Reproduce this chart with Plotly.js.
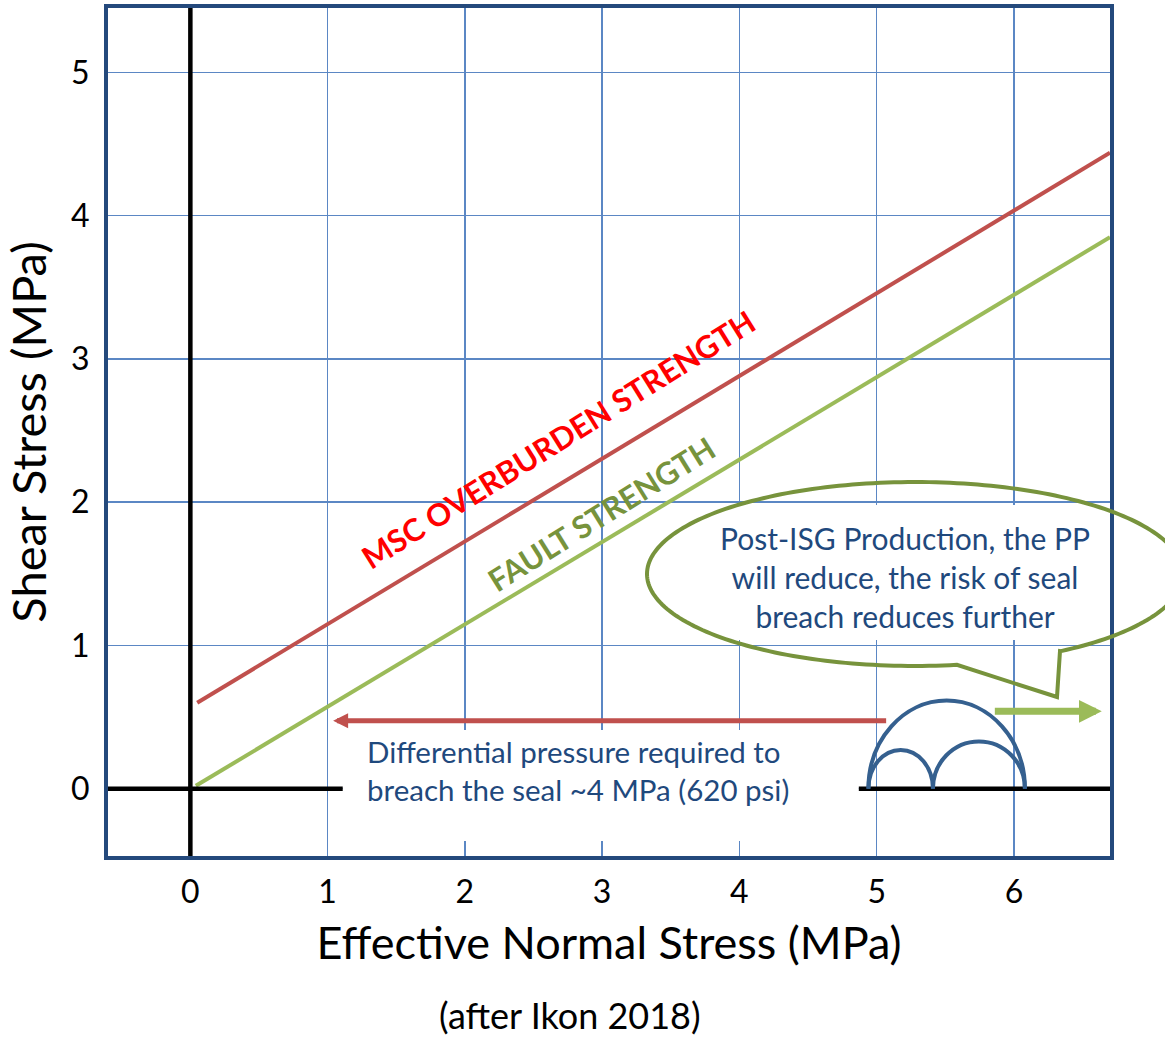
<!DOCTYPE html>
<html>
<head>
<meta charset="utf-8">
<script src="https://cdn.plot.ly/plotly-3.0.1.min.js"></script>
<style>
html,body{margin:0;padding:0;background:#fff;}
#chart{width:1165px;height:1038px;}
</style>
</head>
<body>
<div id="chart"></div>
<script>
// ---------- data ----------
const xTicks = [0, 1, 2, 3, 4, 5, 6];
const xTickText = ['0', '1', '2', '3', '4', '5', '6'];
const yTicks = [0, 1, 2, 3, 4, 5];
const yTickText = ['0', '1', '2', '3', '4', '5'];

const overburdenX = [0.05, 6.70];
const overburdenY = [0.60, 4.44];
const faultX = [0.04, 6.70];
const faultY = [0.02, 3.85];

const mohrCenters = [5.51, 5.175, 5.745];
const mohrRadii   = [0.57, 0.235, 0.335];
const mohrHeights = [0.615, 0.27, 0.33];

const pressureArrowX = [5.08, 1.04];   // tail, tip
const pressureArrowY = [0.475, 0.475];
const reliefArrowX = [5.85, 6.64];     // tail, tip
const reliefArrowY = [0.54, 0.54];

const baselineSegmentsX = [[-0.62, 1.11], [4.87, 6.70]];

// ---------- layout geometry ----------
const W = 1165, H = 1038, ML = 108, MR = 55, MT = 8, MB = 182;
const PW = W - ML - MR, PH = H - MT - MB;
const px2paperX = p => (p - ML) / PW;
const px2paperY = p => (H - MB - p) / PH;

const FONT = 'Lato, "Open Sans", sans-serif';
const BLUE_TXT = '#1F497D';

// ---------- traces ----------
const traces = [
  {x: overburdenX, y: overburdenY, mode: 'lines', type: 'scatter',
   line: {color: '#C0504D', width: 4}, hoverinfo: 'skip', showlegend: false},
  {x: faultX, y: faultY, mode: 'lines', type: 'scatter',
   line: {color: '#9BBB59', width: 4}, hoverinfo: 'skip', showlegend: false}
];

// ---------- shapes ----------
const shapes = [];
// white text boxes (hide grid under labels)
shapes.push({type: 'rect', xref: 'x', yref: 'y', layer: 'above',
  x0: 1.11, x1: 4.87, y0: -0.365, y1: 0.41,
  fillcolor: '#ffffff', line: {width: 0}});
shapes.push({type: 'rect', xref: 'paper', yref: 'paper', layer: 'above',
  x0: px2paperX(712), x1: px2paperX(1100), y0: px2paperY(640), y1: px2paperY(505),
  fillcolor: '#ffffff', line: {width: 0}});

// black axes through origin
shapes.push({type: 'line', xref: 'x', yref: 'y', layer: 'above',
  x0: 0, x1: 0, y0: -0.6, y1: 5.6, line: {color: '#000', width: 4.5}});
baselineSegmentsX.forEach(s => shapes.push({type: 'line', xref: 'x', yref: 'y', layer: 'above',
  x0: s[0], x1: s[1], y0: 0, y1: 0, line: {color: '#000', width: 4.5}}));

// Mohr semicircles (cubic Bezier halves)
const K = 0.5523;
mohrCenters.forEach((c, i) => {
  const r = mohrRadii[i], h = mohrHeights[i];
  const d = `M${c - r},0 C${c - r},${K * h} ${c - K * r},${h} ${c},${h} ` +
            `C${c + K * r},${h} ${c + r},${K * h} ${c + r},0`;
  shapes.push({type: 'path', xref: 'x', yref: 'y', layer: 'above', path: d,
    line: {color: '#35608F', width: 4}});
});

// speech bubble outline
(function () {
  const cx = 915, cy = 574, rx = 268, ry = 92;
  const pts = [];
  for (let t = 57; t >= 80 - 360; t -= 1.5) {
    const a = t * Math.PI / 180;
    pts.push([cx + rx * Math.cos(a), cy + ry * Math.sin(a)]);
  }
  pts.push([1057, 697]);
  pts.push([1060, 651]);
  let d = 'M' + pts.map(p => px2paperX(p[0]).toFixed(5) + ',' + px2paperY(p[1]).toFixed(5)).join(' L') + ' Z';
  shapes.push({type: 'path', xref: 'paper', yref: 'paper', layer: 'above', path: d,
    line: {color: '#77933C', width: 4}});
})();

// ---------- annotations ----------
const annotations = [
  {xref: 'x', yref: 'y', x: 2.68, y: 2.44, text: '<b>MSC OVERBURDEN STRENGTH</b>',
   textangle: -32, showarrow: false, font: {family: FONT, size: 31, color: '#FF0000'}},
  {xref: 'x', yref: 'y', x: 2.99, y: 1.92, text: '<b>FAULT STRENGTH</b>',
   textangle: -32, showarrow: false, font: {family: FONT, size: 31, color: '#77933C'}},
  {xref: 'x', yref: 'y', x: 1.27, y: 0.124, xanchor: 'left', align: 'left',
   text: 'Differential pressure required to<br>breach the seal ~4 MPa (620 psi)',
   showarrow: false, font: {family: FONT, size: 29.5, color: BLUE_TXT}},
  {xref: 'x', yref: 'y', x: 5.21, y: 1.48, align: 'center',
   text: 'Post-ISG Production, the PP<br>will reduce, the risk of seal<br>breach reduces further',
   showarrow: false, font: {family: FONT, size: 30, color: BLUE_TXT}},
  {xref: 'paper', yref: 'paper', x: px2paperX(570), y: px2paperY(1015),
   xanchor: 'center', yanchor: 'middle',
   text: '(after Ikon 2018)', showarrow: false,
   font: {family: FONT, size: 36, color: '#000'}},
  {xref: 'x', yref: 'y', axref: 'x', ayref: 'y',
   x: pressureArrowX[1], y: pressureArrowY[1], ax: pressureArrowX[0], ay: pressureArrowY[0],
   text: '', showarrow: true, arrowhead: 2, arrowsize: 0.6, arrowwidth: 5, arrowcolor: '#C0504D'},
  {xref: 'x', yref: 'y', axref: 'x', ayref: 'y',
   x: reliefArrowX[1], y: reliefArrowY[1], ax: reliefArrowX[0], ay: reliefArrowY[0],
   text: '', showarrow: true, arrowhead: 2, arrowsize: 0.65, arrowwidth: 7, arrowcolor: '#9BBB59'}
];

// ---------- layout ----------
const layout = {
  width: W, height: H,
  margin: {l: ML, r: MR, t: MT, b: MB, autoexpand: false},
  paper_bgcolor: '#ffffff', plot_bgcolor: '#ffffff',
  showlegend: false,
  font: {family: FONT, color: '#000'},
  xaxis: {
    range: [-0.6, 6.7], tickvals: xTicks, ticktext: xTickText,
    showgrid: true, gridcolor: '#5B87C4', gridwidth: 1.5,
    zeroline: false, showline: true, mirror: true, linecolor: '#24497C', linewidth: 4,
    ticks: '', ticklabelstandoff: 5, tickfont: {family: FONT, size: 32, color: '#000'},
    title: {text: 'Effective Normal Stress (MPa)', standoff: 19, font: {family: FONT, size: 45, color: '#000'}},
    automargin: false, fixedrange: true
  },
  yaxis: {
    range: [-0.47, 5.45], tickvals: yTicks, ticktext: yTickText,
    showgrid: true, gridcolor: '#5B87C4', gridwidth: 1.5,
    zeroline: false, showline: true, mirror: true, linecolor: '#24497C', linewidth: 4,
    ticks: '', ticklabelstandoff: 8, tickfont: {family: FONT, size: 32, color: '#000'},
    title: {text: 'Shear Stress (MPa)', standoff: 14, font: {family: FONT, size: 47, color: '#000'}},
    automargin: false, fixedrange: true
  },
  shapes: shapes,
  annotations: annotations
};

Plotly.newPlot('chart', traces, layout, {displayModeBar: false, staticPlot: true});
</script>
</body>
</html>
